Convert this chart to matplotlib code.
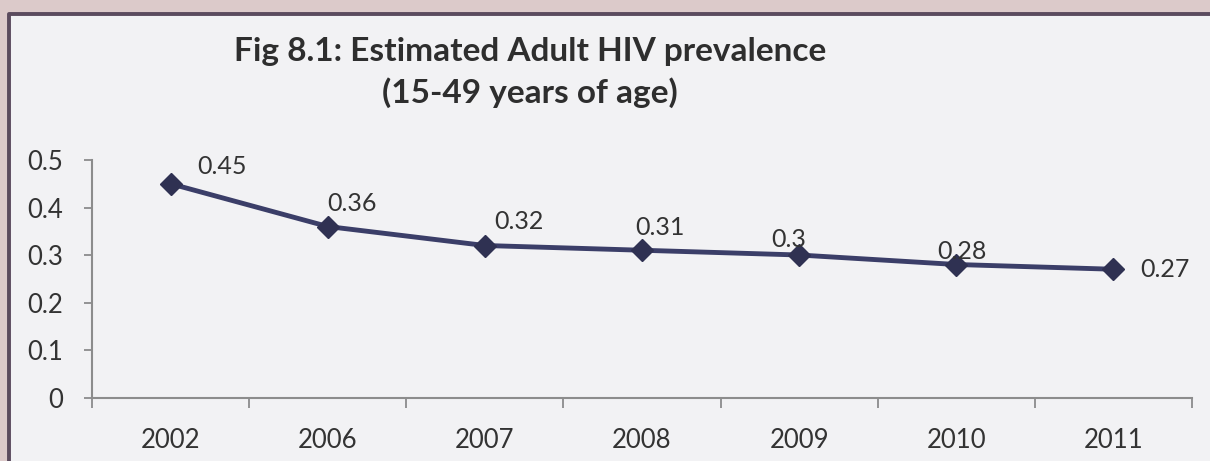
import matplotlib.pyplot as plt
from matplotlib.patches import Rectangle
from matplotlib.lines import Line2D
import numpy as np

# data
years = ['2002', '2006', '2007', '2008', '2009', '2010', '2011']
prevalence = [0.45, 0.36, 0.32, 0.31, 0.30, 0.28, 0.27]
labels = ['0.45', '0.36', '0.32', '0.31', '0.3', '0.28', '0.27']
yticks = [0, 0.1, 0.2, 0.3, 0.4, 0.5]
ytick_labels = ['0', '0.1', '0.2', '0.3', '0.4', '0.5']

# label offsets in pixels (dx, dy) relative to each point
label_offsets = [(51, 17), (24, 23), (34, 24), (18, 23), (-10, 16), (6, 13), (52, 0)]

plt.rcParams['font.family'] = ['Lato', 'DejaVu Sans']

W, H = 1210, 461
fig = plt.figure(figsize=(W / 100, H / 100), dpi=100)
fig.patch.set_facecolor('#dccaca')

# chart frame (scanned page box): fill plus left/top border only
fx, fy = 9 / W, 1 - 14 / H
fig.patches.append(Rectangle((fx, 0), 1 - fx, fy, transform=fig.transFigure,
                             facecolor='#f2f2f4', edgecolor='none', zorder=-10))
fig.lines.append(Line2D([fx, fx, 1], [0, fy, fy], transform=fig.transFigure,
                        color='#5b4b5e', linewidth=2.8, zorder=-9))

ax = fig.add_axes([92 / W, 1 - 397.5 / H, 1100 / W, 237.5 / H])
ax.set_facecolor('none')

x = np.arange(len(years))
ax.plot(x, prevalence, color='#3b3e68', linewidth=3.5, marker='D',
        markersize=11, markerfacecolor='#2f3152', markeredgecolor='#2f3152',
        solid_capstyle='round', zorder=3, clip_on=False)

for xi, yi, lab, (dx, dy) in zip(x, prevalence, labels, label_offsets):
    ax.annotate(lab, (xi, yi), xytext=(dx, dy), textcoords='offset pixels',
                ha='center', va='center', fontsize=18, color='#333333', zorder=4)

ax.set_xlim(-0.5, len(years) - 0.5)
ax.set_ylim(0, 0.5)

ax.set_yticks(yticks)
ax.set_yticklabels(ytick_labels)
ax.set_xticks(x)
ax.set_xticklabels(years)
ax.set_xticks(np.arange(-0.5, len(years)), minor=True)

ax.tick_params(axis='y', length=6, width=1.3, color='#8c8c8c', pad=15,
               labelsize=18.5, labelcolor='#333333')
ax.tick_params(axis='x', which='major', length=0, pad=22,
               labelsize=18.5, labelcolor='#333333')
ax.tick_params(axis='x', which='minor', length=7, width=1.3, color='#8c8c8c')

for side in ['top', 'right']:
    ax.spines[side].set_visible(False)
for side in ['left', 'bottom']:
    ax.spines[side].set_color('#8c8c8c')
    ax.spines[side].set_linewidth(1.5)

fig.text(530 / W, 1 - 51 / H, 'Fig 8.1: Estimated Adult HIV prevalence',
         ha='center', va='center', fontsize=24, fontweight='bold', color='#2e2e2e')
fig.text(530 / W, 1 - 93 / H, '(15-49 years of age)',
         ha='center', va='center', fontsize=24, fontweight='bold', color='#2e2e2e')

fig.savefig('out.png', dpi=100, facecolor=fig.get_facecolor())
